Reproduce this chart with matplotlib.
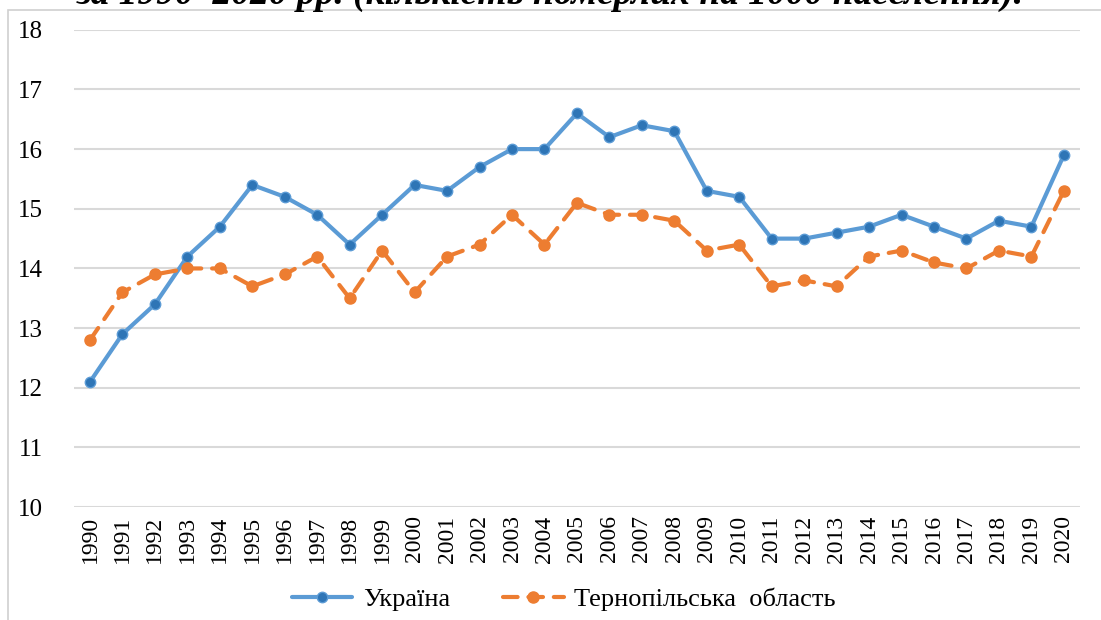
import matplotlib.pyplot as plt
from matplotlib.patches import Rectangle

years = list(range(1990, 2021))
ukraine = [12.1, 12.9, 13.4, 14.2, 14.7, 15.4, 15.2, 14.9, 14.4, 14.9,
           15.4, 15.3, 15.7, 16.0, 16.0, 16.6, 16.2, 16.4, 16.3, 15.3,
           15.2, 14.5, 14.5, 14.6, 14.7, 14.9, 14.7, 14.5, 14.8, 14.7, 15.9]
ternopil = [12.8, 13.6, 13.9, 14.0, 14.0, 13.7, 13.9, 14.2, 13.5, 14.3,
            13.6, 14.2, 14.4, 14.9, 14.4, 15.1, 14.9, 14.9, 14.8, 14.3,
            14.4, 13.7, 13.8, 13.7, 14.2, 14.3, 14.1, 14.0, 14.3, 14.2, 15.3]
y_ticks = [10, 11, 12, 13, 14, 15, 16, 17, 18]
title = "за 1990–2020 рр. (кількість померлих на 1000 населення)."

plt.rcParams['font.family'] = ['Liberation Serif', 'DejaVu Serif']

fig = plt.figure(figsize=(11.01, 6.2), dpi=100)
ax = fig.add_axes([0.067, 0.182, 0.914, 0.770])

# chart frame
fig.patches.append(Rectangle((8 / 1101, -0.1), 1.2, 1 - 10 / 620 + 0.1,
                             transform=fig.transFigure, fill=False,
                             edgecolor='#D0D0D0', linewidth=1.2))

ax.plot(years, ukraine, color='#5B9BD5', linewidth=3, marker='o',
        markersize=7.5, markerfacecolor='#2E75B6', markeredgecolor='#5B9BD5',
        label='Україна', solid_capstyle='round', zorder=3)
ax.plot(years, ternopil, color='#ED7D31', linewidth=3, marker='o',
        markersize=8, markerfacecolor='#ED7D31', markeredgecolor='#ED7D31',
        linestyle=(0, (3.5, 2.6)), dash_capstyle='round',
        label='Тернопільська  область', zorder=3)

ax.set_xlim(1989.5, 2020.5)
ax.set_ylim(10, 18)
ax.set_yticks(y_ticks)
ax.set_xticks(years)
ax.set_xticklabels([str(y) for y in years], rotation=90, fontsize=17)
ax.tick_params(axis='y', labelsize=18, length=0, pad=22)
ax.tick_params(axis='x', length=0, pad=6)
ax.grid(axis='y', color='#D9D9D9', linewidth=1.5)
ax.set_axisbelow(True)
for s in ax.spines.values():
    s.set_visible(False)

fig.legend(loc='center', bbox_to_anchor=(0.512, 0.033), ncol=2, frameon=False,
           fontsize=19, handlelength=2.3, columnspacing=2.0, handletextpad=0.4)

# heading of the source figure, clipped at the top edge as in the original
fig.text(0.5, 0.993, title, ha='center', va='baseline', fontsize=27,
         fontweight='bold', fontstyle='italic')

fig.savefig('out.png', dpi=100)
